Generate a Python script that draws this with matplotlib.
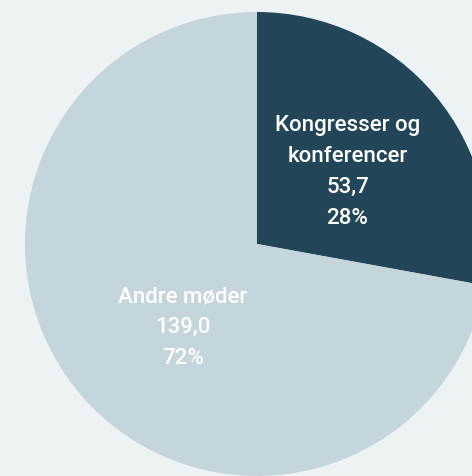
import matplotlib
matplotlib.use("Agg")
import matplotlib.pyplot as plt

categories = ["Kongresser og\nkonferencer", "Andre møder"]
values = [53.7, 139.0]
value_labels = ["53,7", "139,0"]
pct_labels = ["28%", "72%"]
colors = ["#224658", "#c4d5dc"]
BG = "#edf2f5"

W, H = 472, 476
cx, cy, r = 257, 244, 232

fig = plt.figure(figsize=(W / 100, H / 100), dpi=100, facecolor=BG)
ax = fig.add_axes([0, 0, 1, 1])
ax.set_facecolor(BG)
ax.pie(values, colors=colors, startangle=90, counterclock=False, radius=1,
       wedgeprops={"linewidth": 0})
ax.set_xlim(-cx / r, (W - cx) / r)
ax.set_ylim(-(H - cy) / r, cy / r)
ax.set_aspect("auto")
ax.axis("off")

# label centres (in pie radius units)
label_pos = [(0.39, 0.31), (-0.32, -0.36)]
for cat, v, p, (x, y) in zip(categories, value_labels, pct_labels, label_pos):
    ax.text(x, y, f"{cat}\n{v}\n{p}", ha="center", va="center", color="white",
            fontsize=16, family="Roboto", fontweight="medium", linespacing=1.62)

fig.savefig("out.png", dpi=100, facecolor=BG)
